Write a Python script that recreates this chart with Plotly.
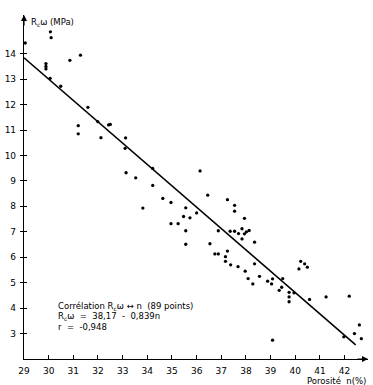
import plotly.graph_objects as go

# Data
porosity = [29.05, 30.07, 30.10, 29.89, 29.89, 29.89, 30.06, 30.49, 30.86, 31.29,
            31.59, 31.99, 32.43, 32.50, 31.20, 31.20, 32.12, 33.12, 33.10, 33.14,
            33.53, 34.22, 34.22, 33.82, 34.63, 34.96, 36.14, 36.45, 35.56, 35.47,
            35.73, 36.00, 34.96, 35.25, 35.56, 35.56, 36.54, 37.25, 37.54, 37.54,
            37.94, 36.88, 37.36, 37.54, 37.84, 37.70, 37.94, 38.13, 38.02, 37.84,
            36.74, 36.88, 37.25, 37.17, 37.17, 37.38, 37.68, 37.97, 38.09, 38.35,
            38.35, 38.55, 38.28, 38.88, 39.04, 39.08, 39.49, 39.45, 39.35, 39.75,
            39.75, 39.75, 39.95, 40.22, 40.15, 40.38, 40.49, 40.58, 41.25, 42.19,
            42.60, 42.40, 42.68, 41.97, 39.08]
strength = [14.42, 14.86, 14.63, 13.61, 13.50, 13.40, 13.03, 12.72, 13.74, 13.94,
            11.89, 11.33, 11.20, 11.22, 11.17, 10.85, 10.70, 10.69, 10.28, 9.32,
            9.12, 9.49, 8.82, 7.93, 8.31, 8.15, 9.39, 8.44, 7.94, 7.60,
            7.55, 7.74, 7.32, 7.32, 7.04, 6.51, 6.53, 8.26, 8.04, 7.81,
            7.53, 7.04, 7.02, 7.02, 7.12, 6.93, 6.92, 7.05, 7.00, 6.72,
            6.13, 6.13, 6.24, 6.02, 5.84, 5.70, 5.63, 5.45, 5.16, 6.59,
            5.74, 5.25, 4.95, 5.06, 4.95, 5.15, 5.16, 4.82, 4.70, 4.62,
            4.44, 4.25, 4.60, 5.84, 5.54, 5.74, 5.61, 4.34, 4.44, 4.47,
            3.34, 3.00, 2.80, 2.87, 2.74]

intercept = 38.17
slope = -0.839
line_n = [29.0, 42.45]
line_v = [intercept + slope * n for n in line_n]

x_ticks = list(range(29, 43))
y_ticks = list(range(3, 15))

FONT = "DejaVu Sans"

fig = go.Figure()
fig.add_trace(go.Scatter(x=line_n, y=line_v, mode="lines",
                         line=dict(color="black", width=1.6), hoverinfo="skip"))
fig.add_trace(go.Scatter(x=porosity, y=strength, mode="markers", cliponaxis=False,
                         marker=dict(color="black", size=3.3, line=dict(width=0))))
# invisible trace bound to overlay axis (for inner half of y ticks)
fig.add_trace(go.Scatter(x=[None], y=[None], yaxis="y2", showlegend=False))

fig.update_layout(
    width=373, height=385,
    margin=dict(l=21, r=5, t=15, b=26),
    paper_bgcolor="white", plot_bgcolor="white",
    showlegend=False,
    font=dict(family=FONT, size=9, color="black"),
    xaxis=dict(range=[29, 42.95], tickvals=x_ticks, ticktext=[str(t) for t in x_ticks],
               ticks="inside", ticklen=4, tickcolor="black", tickwidth=1,
               showline=True, linecolor="black", linewidth=1.2,
               showgrid=False, zeroline=False, ticklabelstandoff=3,
               tickfont=dict(family=FONT, size=9)),
    yaxis=dict(range=[2, 15.52], tickvals=y_ticks, ticktext=[str(t) for t in y_ticks],
               ticks="outside", ticklen=3, tickcolor="black", tickwidth=1,
               showline=True, linecolor="black", linewidth=1.2,
               showgrid=False, zeroline=False, ticklabelstandoff=2,
               tickfont=dict(family=FONT, size=9)),
    yaxis2=dict(range=[2, 15.52], overlaying="y", side="left", tickvals=y_ticks,
                ticks="inside", ticklen=3, tickcolor="black", tickwidth=1,
                showticklabels=False, showline=False, showgrid=False, zeroline=False),
)

# axis arrows
fig.add_annotation(x=0, y=1, xref="paper", yref="paper", ax=0, ay=12, text="",
                   showarrow=True, arrowhead=2, arrowsize=1, arrowwidth=1.2, arrowcolor="black")
fig.add_annotation(x=1, y=0, xref="paper", yref="paper", ax=-12, ay=0, text="",
                   showarrow=True, arrowhead=2, arrowsize=1, arrowwidth=1.2, arrowcolor="black")

# axis titles
fig.add_annotation(x=0.014, y=0.978, xref="paper", yref="paper", xanchor="left", yanchor="middle",
                   text="R<sub>c</sub>ω (MPa)", showarrow=False, font=dict(family=FONT, size=8.5))
fig.add_annotation(x=1.0, y=-0.064, xref="paper", yref="paper", xanchor="right", yanchor="middle",
                   text="Porosité  n(%)", showarrow=False, font=dict(family=FONT, size=8.5))

# correlation text
lines = ["Corrélation R<sub>c</sub>ω ↔ n  (89 points)",
         "R<sub>c</sub>ω  =  38,17  -  0,839n",
         "r  =  -0,948"]
ys = [0.154, 0.124, 0.093]
for t, yy in zip(lines, ys):
    fig.add_annotation(x=0.092, y=yy, xref="paper", yref="paper", xanchor="left", yanchor="middle",
                       text=t, showarrow=False, font=dict(family=FONT, size=8.5))

fig.write_html("out.html")
